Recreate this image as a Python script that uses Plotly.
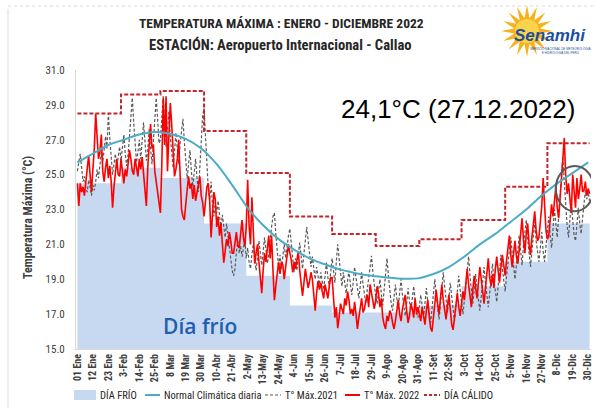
import math
import plotly.graph_objects as go

# ---------------- data ----------------
tick_days = list(range(0, 364, 11))
tick_labels = ["01 Ene", "12 Ene", "23 Ene", "3-Feb", "14-Feb", "25-Feb", "8 Mar", "19 Mar",
               "30 Mar", "10-Abr", "21-Abr", "2-May", "13-May", "24-May", "4-Jun", "15-Jun",
               "26-Jun", "7-Jul", "18-Jul", "29-Jul", "9-Ago", "20-Ago", "31-Ago", "11-Set",
               "22-Set", "3-Oct", "14-Oct", "25-Oct", "5-Nov", "16-Nov", "27-Nov", "8-Dic",
               "19-Dic", "30-Dic"]

month_start = [0, 31, 59, 90, 120, 151, 181, 212, 243, 273, 304, 334, 364]
dia_frio = [24.5, 25.4, 24.8, 22.2, 19.2, 17.5, 17.1, 17.1, 17.5, 18.6, 20.0, 22.2, 22.2]
dia_calido = [28.5, 29.6, 29.8, 27.5, 25.1, 22.6, 21.6, 20.9, 21.3, 22.4, 24.3, 26.8, 26.8]

normal_days = tick_days
normal_clim = [25.7, 26.2, 26.7, 27.0, 27.3, 27.45, 27.35, 27.05, 26.5, 25.6, 24.4, 23.1,
               22.1, 21.3, 20.7, 20.2, 19.85, 19.55, 19.35, 19.2, 19.1, 19.03, 19.05, 19.3,
               19.7, 20.3, 21.0, 21.6, 22.3, 23.0, 23.8, 24.5, 25.1, 25.7]

days = list(range(365))

tmax_2022 = [
    24.5, 23.2, 24.5, 24.0, 24.3, 23.8, 24.6, 25.2, 26.1, 25.0, 24.0, 25.3, 26.5, 28.5, 27.0, 25.9,
    26.3, 27.3, 25.2, 24.6, 25.4, 25.9, 24.8, 25.5, 24.6, 23.1, 24.3, 25.2, 25.9, 25.0, 24.9,
    25.9, 25.0, 24.5, 25.3, 24.9, 25.6, 26.4, 25.9, 25.2, 25.0, 25.9, 25.4, 24.9, 25.9, 25.3, 26.0,
    25.0, 24.2, 23.2, 25.4, 26.8, 27.9, 26.5, 26.7, 25.2, 24.6, 24.1, 23.3,
    22.8, 25.6, 29.4, 26.7, 29.5, 25.2, 27.3, 29.1, 27.9, 26.0, 24.9, 25.3, 25.9, 27.0, 24.8, 23.0,
    22.6, 22.4, 23.3, 24.0, 24.9, 24.2, 24.5, 23.6, 24.4, 23.5, 23.9, 24.3, 24.9, 23.8, 23.4,
    22.6, 23.5, 24.3, 24.5, 23.5, 21.4, 22.8, 24.0, 23.6, 22.0, 22.6, 21.5, 22.2, 21.0, 19.95,
    20.6, 21.3, 20.9, 21.7, 21.2, 20.5, 20.5, 21.3, 21.7, 20.9, 20.8, 21.6, 22.4, 21.4, 20.9,
    22.0, 24.7, 22.1, 21.0, 23.7, 22.0, 19.9, 20.5, 21.0, 20.0, 19.2, 18.2, 19.5, 20.5, 20.0, 21.0,
    21.5, 20.2, 21.5, 19.5, 17.8, 18.6, 19.4, 20.0, 19.3, 20.0, 19.8, 19.0, 19.7, 20.3, 21.0,
    20.5, 20.1, 19.4, 20.0, 19.6, 20.2, 20.6, 19.5, 18.7, 18.05, 18.8, 19.6, 19.0, 18.5, 18.9,
    19.4, 19.0, 17.9, 17.2, 18.2, 18.9, 18.4, 18.8, 18.3, 17.9, 18.7, 18.2, 17.9, 18.6, 19.1,
    19.1, 18.0, 16.8, 17.4, 16.2, 16.8, 17.6, 17.3, 17.0, 17.9, 17.5, 18.3, 17.8, 17.0, 17.3, 16.9,
    17.7, 17.0, 16.15, 16.8, 17.4, 17.9, 17.1, 17.3, 17.8, 18.1, 17.4, 18.7, 18.2, 17.6, 17.3,
    17.8, 18.6, 18.2, 17.4, 17.9, 16.8, 16.4, 16.15, 16.9, 16.6, 17.2, 17.0, 16.5, 16.15, 16.6,
    17.2, 17.8, 17.0, 16.6, 17.3, 17.7, 18.1, 17.2, 16.5, 16.9, 17.6, 17.3, 16.8, 17.9, 17.0, 17.4,
    17.0, 16.6, 17.4, 16.9, 16.4, 17.2, 17.8, 16.9, 16.2, 16.0, 16.8, 17.5, 18.4, 17.6, 17.0,
    17.9, 18.7, 17.8, 17.2, 16.7, 17.5, 18.1, 17.3, 16.4, 16.1, 16.9, 17.6, 18.2, 17.4, 16.9,
    17.6, 18.3, 17.8, 18.9, 19.6, 18.7, 18.1, 17.4, 18.4, 19.2, 18.5, 17.9, 18.8, 19.7, 19.0, 18.3,
    17.6, 18.5, 19.4, 20.2, 19.1, 18.6, 19.3, 18.5, 19.6, 20.3, 19.5, 18.8, 19.7, 20.4, 19.8,
    19.2, 20.1, 20.8, 21.5, 20.4, 19.7, 20.5, 21.2, 20.3, 19.9, 20.7, 21.5, 22.5, 21.3, 20.5,
    21.6, 22.2, 21.0, 20.4, 21.4, 22.0, 22.9, 21.8, 21.2, 21.4, 22.3, 23.2, 24.8, 23.0, 21.8,
    21.3, 21.5, 22.4, 23.3, 22.6, 23.5, 24.3, 23.1, 22.5, 23.6, 24.6, 25.8, 27.1, 25.0, 23.9, 24.5,
    23.4, 22.8, 25.0, 24.0, 23.1, 24.8, 23.6, 24.2, 25.0, 24.0, 24.1, 24.6, 23.8, 24.2, 23.9,
]

tmax_2021 = [
    25.2, 25.8, 26.2, 25.4, 24.6, 24.9, 24.2, 24.0, 24.7, 24.3, 23.8, 24.4, 24.1, 24.6, 25.3, 24.8,
    25.6, 26.3, 25.7, 26.4, 27.2, 26.5, 28.5, 27.1, 25.8, 25.0, 25.6, 26.2, 25.4, 26.0, 26.6,
    25.8, 26.5, 27.3, 26.2, 25.5, 26.1, 27.4, 28.3, 29.4, 28.0, 26.6, 25.7, 26.3, 27.0, 25.9, 26.8,
    28.0, 26.9, 25.8, 26.4, 27.6, 26.5, 25.6, 26.9, 28.1, 29.4, 28.2, 26.8,
    27.0, 28.4, 29.5, 28.1, 26.6, 27.5, 28.6, 27.2, 26.0, 25.4, 26.3, 27.4, 26.5, 25.6, 26.8, 27.6,
    28.2, 26.9, 25.7, 24.8, 25.6, 26.4, 25.2, 24.3, 25.1, 25.9, 24.8, 24.0, 25.4, 27.0, 28.4,
    28.8, 27.1, 25.4, 24.2, 23.5, 24.6, 23.3, 22.6, 23.4, 22.8, 23.5, 22.6, 21.9, 22.7, 22.0,
    21.4, 22.2, 21.5, 20.8, 20.1, 19.5, 19.2, 19.6, 20.6, 21.2, 20.5, 20.9, 20.3, 20.7, 21.3,
    20.2, 20.8, 20.0, 19.6, 20.4, 21.0, 20.2, 19.5, 20.3, 21.2, 20.5, 19.8, 20.6, 21.4, 20.7, 19.9,
    20.4, 21.3, 22.0, 22.6, 22.8, 21.6, 20.5, 19.7, 20.4, 19.6, 20.3, 21.0, 20.2, 20.9, 21.5,
    21.9, 21.0, 20.1, 19.4, 20.2, 19.5, 20.4, 21.1, 20.3, 19.6, 20.5, 21.3, 22.0, 21.2, 20.4,
    19.7, 20.3, 19.5, 19.0, 19.7, 19.2, 18.7, 19.4, 18.9, 18.4, 19.2, 19.95, 19.1, 18.6, 19.4,
    20.2, 19.5, 18.8, 20.0, 21.0, 20.2, 19.3, 18.6, 19.4, 18.8, 18.2, 18.9, 19.5, 18.7, 18.1, 18.8,
    19.7, 19.1, 18.4, 17.9, 18.6, 19.4, 18.7, 18.0, 17.6, 18.4, 19.1, 19.8, 20.35, 19.4, 18.6,
    18.0, 17.6, 18.3, 19.0, 18.2, 17.5, 18.4, 19.3, 20.2, 19.2, 18.3, 17.6, 17.2, 18.0, 18.7,
    17.9, 17.3, 18.2, 19.0, 18.1, 17.4, 16.9, 17.6, 18.5, 17.7, 17.2, 17.9, 18.6, 17.8, 17.1, 16.8,
    17.4, 18.1, 17.5, 16.8, 17.6, 18.5, 17.7, 17.0, 16.5, 17.3, 18.2, 19.0, 18.1, 17.3, 16.7,
    17.5, 18.4, 19.4, 18.6, 17.8, 17.1, 17.9, 18.8, 18.0, 17.2, 16.6, 17.4, 18.3, 19.2, 18.4,
    17.6, 17.0, 17.8, 18.7, 19.5, 20.3, 19.2, 18.3, 17.6, 18.4, 19.3, 18.5, 17.8, 17.2, 18.0, 18.9,
    19.7, 18.8, 18.0, 17.4, 18.2, 19.1, 19.9, 19.0, 18.3, 17.7, 18.6, 19.5, 20.4, 19.6, 18.8,
    18.3, 19.2, 20.0, 20.8, 21.4, 20.5, 19.6, 19.0, 19.8, 20.7, 21.5, 20.6, 19.8, 20.9, 21.8,
    22.4, 21.3, 20.4, 19.7, 20.6, 21.6, 22.3, 21.2, 20.4, 20.0, 20.8, 21.7, 20.6, 20.0, 20.9,
    21.8, 22.6, 21.5, 20.8, 21.9, 23.0, 22.2, 21.4, 22.6, 23.9, 25.1, 26.0, 24.6, 23.2, 22.1, 21.4,
    22.3, 23.4, 22.4, 21.5, 21.2, 22.0, 23.1, 22.2, 21.6, 22.5, 23.4, 24.1, 23.6, 24.0, 23.5,
]

legend_names = ["DÍA FRÍO", "Normal Climática diaria", "T° Máx.2021", "T° Máx. 2022", "DÍA CÁLIDO"]

# ---------------- layout helpers ----------------
W, H = 596, 408
ML, MR, MT, MB = 76, 5, 70, 59
PW, PH = W - ML - MR, H - MT - MB


def pxx(x):
    return (x - ML) / PW


def pxy(y):
    return (H - MB - y) / PH


NARROW = "Liberation Sans Narrow, Arial Narrow, Roboto Condensed, Liberation Sans, sans-serif"
C_FRIO, C_NORM, C_2021, C_2022, C_CAL = "#C6D9F1", "#4BACC6", "#595959", "#FF0000", "#C0272D"

fig = go.Figure()

fig.add_trace(go.Scatter(
    x=month_start, y=dia_frio, mode="lines", line=dict(shape="hv", width=0, color=C_FRIO),
    fill="tozeroy", fillcolor=C_FRIO, name=legend_names[0], hoverinfo="skip"))
fig.add_trace(go.Scatter(
    x=days, y=tmax_2021, mode="lines", line=dict(color=C_2021, width=1.2, dash="3px,2px"),
    name=legend_names[2]))
fig.add_trace(go.Scatter(
    x=days, y=tmax_2022, mode="lines", line=dict(color=C_2022, width=1.6),
    name=legend_names[3]))
fig.add_trace(go.Scatter(
    x=normal_days, y=normal_clim, mode="lines", line=dict(color=C_NORM, width=2, shape="spline"),
    name=legend_names[1]))
fig.add_trace(go.Scatter(
    x=month_start, y=dia_calido, mode="lines",
    line=dict(shape="hv", color=C_CAL, width=2, dash="4px,2px"),
    name=legend_names[4]))

# logo star
cx, cy, R, r, n = 527, 31, 26, 13, 16
pts = []
for i in range(2 * n):
    ang = math.pi * i / n - math.pi / 2
    rad = R if i % 2 == 0 else r
    pts.append((pxx(cx + rad * math.cos(ang)), pxy(cy + rad * math.sin(ang))))
star_path = "M " + " L ".join(f"{a:.4f},{b:.4f}" for a, b in pts) + " Z"

shapes = [
    dict(type="path", xref="paper", yref="paper", path=star_path,
         fillcolor="#F7B21B", line=dict(width=0), layer="above"),
    dict(type="circle", xref="paper", yref="paper", x0=pxx(cx - 12), x1=pxx(cx + 12),
         y0=pxy(cy + 12), y1=pxy(cy - 12), fillcolor="#FCD34D", line=dict(width=0), layer="above"),
    dict(type="circle", xref="x", yref="y", x0=340, x1=367, y0=22.9, y1=25.5,
         line=dict(color="#595959", width=2)),
    dict(type="line", xref="paper", yref="paper", x0=pxx(8), x1=pxx(8), y0=pxy(9), y1=pxy(408),
         line=dict(color="#D9D9D9", width=1)),
    dict(type="line", xref="paper", yref="paper", x0=pxx(8), x1=pxx(596), y0=pxy(6), y1=pxy(6),
         line=dict(color="#D9D9D9", width=1, dash="dot")),
]

# legend (drawn manually to match the compact layout)
LY = 395
shapes.append(dict(type="rect", xref="paper", yref="paper", x0=pxx(74), x1=pxx(96),
                   y0=pxy(400), y1=pxy(390), fillcolor=C_FRIO, line=dict(width=0)))
leg_lines = [(145, 160, C_NORM, "solid", 2), (265, 281, C_2021, "3px,2px", 1.2),
             (345, 360, C_2022, "solid", 2), (424, 440, C_CAL, "3px,2px", 2)]
for x0, x1, col, dash, w in leg_lines:
    shapes.append(dict(type="line", xref="paper", yref="paper", x0=pxx(x0), x1=pxx(x1),
                       y0=pxy(LY), y1=pxy(LY), line=dict(color=col, width=w, dash=dash)))
leg_text_x = [98, 162, 283, 362, 442]

annotations = [
    dict(text="<b>TEMPERATURA MÁXIMA : ENERO - DICIEMBRE 2022</b>", xref="paper", yref="paper",
         x=pxx(281), y=pxy(23), xanchor="center", yanchor="middle", showarrow=False,
         font=dict(family=NARROW, size=13.5, color="#262626")),
    dict(text="<b>ESTACIÓN: Aeropuerto Internacional - Callao</b>", xref="paper", yref="paper",
         x=pxx(280), y=pxy(45), xanchor="center", yanchor="middle", showarrow=False,
         font=dict(family=NARROW, size=14.6, color="#262626")),
    dict(text="<b><i>Senamhi</i></b>", xref="paper", yref="paper", x=pxx(550), y=pxy(35),
         xanchor="center", yanchor="middle", showarrow=False,
         font=dict(family="Liberation Sans, Arial, sans-serif", size=17, color="#1B4F9C")),
    dict(text="SERVICIO NACIONAL DE METEOROLOGÍA<br>E HIDROLOGÍA DEL PERÚ", xref="paper", yref="paper",
         x=pxx(560), y=pxy(51), xanchor="center", yanchor="middle", showarrow=False,
         font=dict(family="Liberation Sans, Arial, sans-serif", size=3, color="#1B4F9C")),
    dict(text="24,1°C (27.12.2022)", xref="paper", yref="paper", x=pxx(458), y=pxy(109),
         xanchor="center", yanchor="middle", showarrow=False,
         font=dict(family="Liberation Sans, Arial, sans-serif", size=26, color="#000000")),
    dict(text="Día frío", x=87, y=16.3, xref="x", yref="y", xanchor="center", yanchor="middle",
         showarrow=False,
         font=dict(family="Open Sans, Liberation Sans, sans-serif", size=21, color="#1F5FAD", weight=600)),
    dict(text="<b>Temperatura Máxima (°C)</b>", xref="paper", yref="paper", x=pxx(28), y=pxy(218),
         xanchor="center", yanchor="middle", textangle=-90, showarrow=False,
         font=dict(family=NARROW, size=12, color="#404040")),
]
for name, tx in zip(legend_names, leg_text_x):
    annotations.append(dict(text=name, xref="paper", yref="paper", x=pxx(tx), y=pxy(LY),
                            xanchor="left", yanchor="middle", showarrow=False,
                            font=dict(family=NARROW, size=10.5, color="#262626")))

fig.update_layout(
    width=W, height=H,
    margin=dict(l=ML, r=MR, t=MT, b=MB, autoexpand=False),
    paper_bgcolor="white", plot_bgcolor="white",
    showlegend=False,
    shapes=shapes, annotations=annotations,
    xaxis=dict(range=[-1, 365], tickmode="array", tickvals=tick_days, ticktext=tick_labels,
               tickangle=-90, tickfont=dict(family=NARROW, size=10, color="#404040", weight="bold"),
               showgrid=False, zeroline=False, showline=True, linecolor="#D9D9D9", ticks=""),
    yaxis=dict(range=[15, 31], tickmode="array", tickvals=[15, 17, 19, 21, 23, 25, 27, 29, 31],
               tickformat=".1f", tickfont=dict(family=NARROW, size=11, color="#404040"),
               showgrid=False, zeroline=False, showline=True, linecolor="#D9D9D9", ticks="",
               ticklabelstandoff=8),
)

fig.write_html("out.html", config={"displayModeBar": False},
               post_script="document.body.style.margin='0';document.body.style.overflow='hidden';")
